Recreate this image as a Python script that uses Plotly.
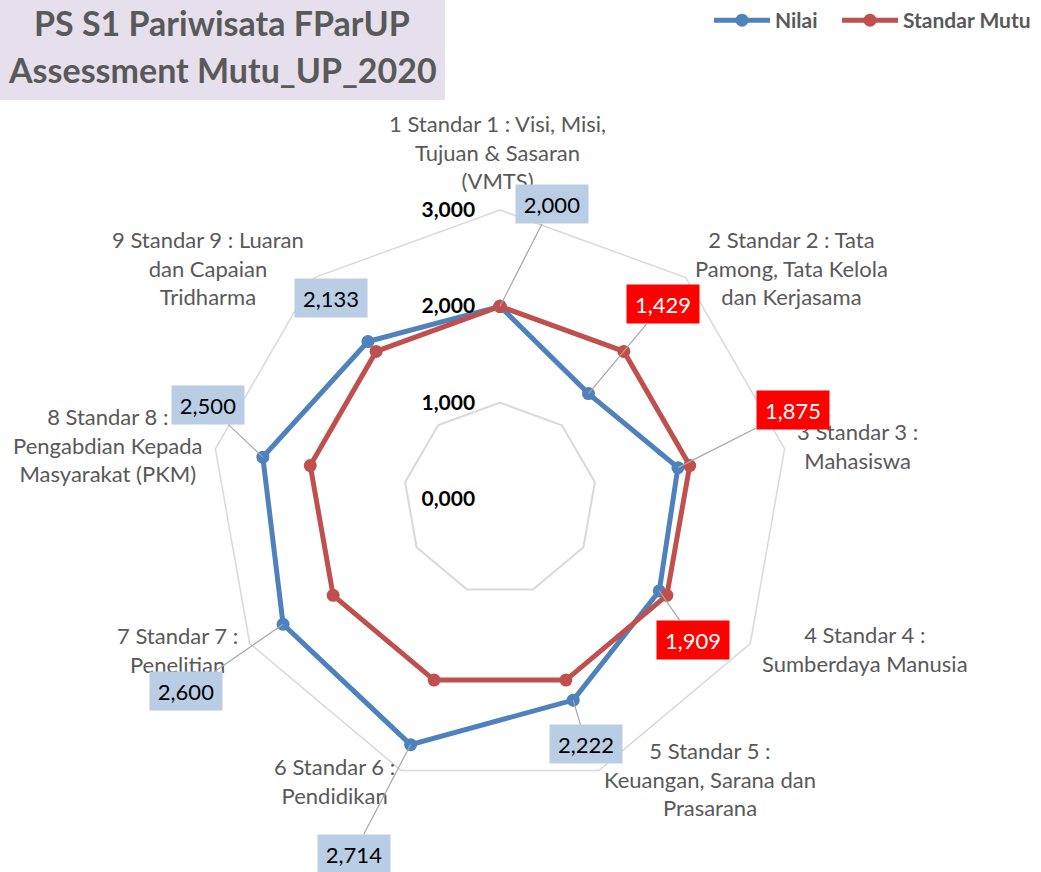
import math
import plotly.graph_objects as go

# ---------------- data ----------------
categories = [
    "1 Standar 1 : Visi, Misi, Tujuan & Sasaran (VMTS)",
    "2 Standar 2 : Tata Pamong, Tata Kelola dan Kerjasama",
    "3 Standar 3 : Mahasiswa",
    "4 Standar 4 : Sumberdaya Manusia",
    "5 Standar 5 : Keuangan, Sarana dan Prasarana",
    "6 Standar 6 : Pendidikan",
    "7 Standar 7 : Penelitian",
    "8 Standar 8 : Pengabdian Kepada Masyarakat (PKM)",
    "9 Standar 9 : Luaran dan Capaian Tridharma",
]
category_labels = [
    "1 Standar 1 : Visi, Misi,<br>Tujuan & Sasaran<br>(VMTS)",
    "2 Standar 2 : Tata<br>Pamong, Tata Kelola<br>dan Kerjasama",
    "3 Standar 3 :<br>Mahasiswa",
    "4 Standar 4 :<br>Sumberdaya Manusia",
    "5 Standar 5 :<br>Keuangan, Sarana dan<br>Prasarana",
    "6 Standar 6 :<br>Pendidikan",
    "7 Standar 7 :<br>Penelitian",
    "8 Standar 8 :<br>Pengabdian Kepada<br>Masyarakat (PKM)",
    "9 Standar 9 : Luaran<br>dan Capaian<br>Tridharma",
]
nilai = [2.000, 1.429, 1.875, 1.909, 2.222, 2.714, 2.600, 2.500, 2.133]
standar_mutu = [2.000, 2.000, 2.000, 2.000, 2.000, 2.000, 2.000, 2.000, 2.000]
radial_ticks = [0, 1, 2, 3]
radial_tick_labels = ["0,000", "1,000", "2,000", "3,000"]
title_lines = ["PS S1 Pariwisata FParUP", "Assessment Mutu_UP_2020"]

# ---------------- layout constants ----------------
W, H = 1041, 872
CX, CY, R = 500, 499, 289   # pixel centre and outer radius of the radar
RMAX = 3
FONT = "Lato"
GRAY = "#595959"
BLUE = "#4F81BD"
RED = "#C0504D"

dom_x = [(CX - R) / W, (CX + R) / W]
dom_y = [(H - CY - R) / H, (H - CY + R) / H]

n = len(categories)


def to_xy(k, r):
    a = 2 * math.pi * k / n
    return r * math.sin(a), r * math.cos(a)


fig = go.Figure()

fig.add_trace(go.Scatterpolar(
    r=nilai + nilai[:1], theta=categories + categories[:1],
    mode="lines+markers", name="Nilai", legend="legend", showlegend=True,
    line=dict(color=BLUE, width=5), marker=dict(color=BLUE, size=13),
))
fig.add_trace(go.Scatterpolar(
    r=standar_mutu + standar_mutu[:1], theta=categories + categories[:1],
    mode="lines+markers", name="Standar Mutu", legend="legend2", showlegend=True,
    line=dict(color=RED, width=5), marker=dict(color=RED, size=13),
))
# invisible cartesian overlay used to place labels in data space
fig.add_trace(go.Scatter(x=[], y=[], showlegend=False, hoverinfo="skip"))

annotations = []

# category labels (anchor, xshift, yshift)
cat_place = [
    ("center", "bottom", -3, 14),
    ("left", "middle", 7, 10),
    ("left", "middle", 10, 3),
    ("left", "middle", 10, -5),
    ("left", "middle", 3, -8),
    ("right", "middle", -4, -10),
    ("right", "middle", -10, -6),
    ("right", "middle", -10, 4),
    ("right", "middle", -8, 10),
]
for k, lab in enumerate(category_labels):
    x, y = to_xy(k, RMAX)
    xa, ya, xs, ys = cat_place[k]
    annotations.append(dict(
        x=x, y=y, xref="x", yref="y", text=lab, showarrow=False,
        xanchor=xa, yanchor=ya, xshift=xs, yshift=ys, align="center",
        font=dict(family=FONT, size=22, color=GRAY),
    ))

# data labels (pixel offsets of box centre from point)
label_offsets = [(52, -102), (75, -90), (115, -58), (34, 49), (13, 44),
                 (-57, 109), (-97, 67), (-55, -52), (-37, -44)]
for k, v in enumerate(nilai):
    x, y = to_xy(k, v)
    below = v < standar_mutu[k]
    ax, ay = label_offsets[k]
    txt = f"{v:.3f}".replace(".", ",")
    common = dict(
        x=x, y=y, xref="x", yref="y", text=txt,
        bgcolor="#FF0000" if below else "#B9CDE5",
        font=dict(family=FONT, size=22, color="white" if below else "black"),
        width=60, height=26, borderpad=6, align="center",
    )
    if k == 8:
        annotations.append(dict(common, showarrow=False, xshift=ax, yshift=-ay))
    else:
        annotations.append(dict(common, showarrow=True, arrowhead=0, arrowwidth=1.2,
                                arrowcolor="#A6A6A6", ax=ax, ay=ay, standoff=0))

# title
for i, t in enumerate(title_lines):
    annotations.append(dict(
        x=222 / W, y=1 - (23 + 46 * i) / H, xref="paper", yref="paper",
        text=f"<b>{t}</b>", showarrow=False, xanchor="center", yanchor="middle",
        font=dict(family=FONT, size=34, color=GRAY),
    ))

legend_style = dict(
    orientation="h", xanchor="left", y=1, yanchor="top", itemwidth=56,
    font=dict(family=FONT, size=21, color=GRAY, weight="bold"),
    bgcolor="rgba(0,0,0,0)", visible=True,
)

fig.update_layout(
    width=W, height=H, showlegend=True,
    margin=dict(l=0, r=0, t=0, b=0),
    paper_bgcolor="white", plot_bgcolor="rgba(0,0,0,0)",
    shapes=[dict(type="rect", xref="paper", yref="paper",
                 x0=0, x1=445 / W, y0=1 - 100 / H, y1=1,
                 fillcolor="#E5E0EC", line=dict(width=0), layer="below")],
    polar=dict(
        domain=dict(x=dom_x, y=dom_y),
        gridshape="linear", bgcolor="white",
        radialaxis=dict(
            range=[0, RMAX], tickvals=radial_ticks, ticktext=radial_tick_labels,
            angle=90, side="counterclockwise", tickangle=90,
            showline=False, ticks="outside", ticklen=17, tickcolor="rgba(0,0,0,0)",
            gridcolor="#D9D9D9", gridwidth=1.5,
            tickfont=dict(family=FONT, size=21, color="black", weight="bold"),
        ),
        angularaxis=dict(
            direction="clockwise", rotation=90, showgrid=False,
            showline=True, linecolor="#D9D9D9", linewidth=1.5,
            ticks="", showticklabels=False,
        ),
    ),
    xaxis=dict(domain=dom_x, range=[-RMAX, RMAX], visible=False, fixedrange=True),
    yaxis=dict(domain=dom_y, range=[-RMAX, RMAX], visible=False, fixedrange=True),
    legend=dict(legend_style, x=709 / W),
    legend2=dict(legend_style, x=837 / W),
    annotations=annotations,
)

fig.write_html(
    "out.html",
    config={"displayModeBar": False},
    post_script="document.body.style.margin='0';document.body.style.overflow='hidden';",
)
